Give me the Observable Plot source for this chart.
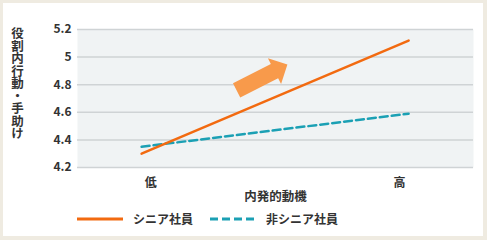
<!DOCTYPE html>
<html><head><meta charset="utf-8">
<script src="https://cdn.jsdelivr.net/npm/d3@7"></script>
<script src="https://cdn.jsdelivr.net/npm/@observablehq/plot@0.6"></script>
<style>
  html, body { margin: 0; padding: 0; background: #fff; }
  #wrap { position: relative; width: 487px; height: 240px; background: #efebe1; overflow: hidden;
          font-family: "Noto Sans CJK JP", "Noto Sans", sans-serif; color: #333; font-weight: bold; }
  #inner { position: absolute; left: 3px; top: 3px; width: 480px; height: 233px; background: #fff; }
  #chart { position: absolute; left: 0; top: 0; }
  #ytitle { position: absolute; left: 10px; top: 27px; writing-mode: vertical-rl; text-orientation: upright;
            font-size: 12.5px; letter-spacing: 0px; line-height: 14px; }
  .lg { position: absolute; top: 210px; height: 18px; line-height: 18px; font-size: 12px; }
</style></head>
<body>
<div id="wrap">
  <div id="inner"></div>
  <div id="chart"></div>
  <div id="ytitle">役割内行動・手助け</div>
  <div id="legend"></div>
</div>
<script>
const categories = ["低", "高"];
const catX = [0, 1];
const labelX = [0.034, 0.966];
const seriesNames = ["シニア社員", "非シニア社員"];
const senior = [4.30, 5.12];
const nonSenior = [4.35, 4.59];
const yTicks = [4.2, 4.4, 4.6, 4.8, 5, 5.2];
const xTitle = "内発的動機";
const arrowPos = [{x: 0.451, y: 4.852}];
const colors = ["#f26a10", "#1ba0b4"];

const rows = categories.flatMap((c, i) => [
  {x: catX[i], y: senior[i], s: seriesNames[0]},
  {x: catX[i], y: nonSenior[i], s: seriesNames[1]}
]);

const blockArrow = {
  draw(context, l) {
    const hw = 8, hh = 14.5, hl = 14.5;
    context.moveTo(-hw, 0);
    context.lineTo(-hw, -l + hl);
    context.lineTo(-hh, -l + hl);
    context.lineTo(0, -l);
    context.lineTo(hh, -l + hl);
    context.lineTo(hw, -l + hl);
    context.lineTo(hw, 0);
    context.closePath();
  }
};

const chart = Plot.plot({
  width: 487, height: 205,
  marginLeft: 77, marginRight: 14, marginTop: 29, marginBottom: 38,
  style: {background: "transparent", fontFamily: "'Noto Sans CJK JP', sans-serif", fontSize: "12px", fontWeight: "bold", color: "#333"},
  x: {domain: [-0.24, 1.243], axis: null},
  y: {domain: [4.2, 5.2], axis: null},
  marks: [
    Plot.frame({fill: "#f0f3f4", stroke: null}),
    Plot.gridY(yTicks, {stroke: "#cfd3d5", strokeOpacity: 1, strokeWidth: 1.5}),
    Plot.axisY(yTicks, {tickSize: 0, tickPadding: 6, tickFormat: d => String(d), label: null, fontSize: 12}),
    Plot.text(categories, {x: (d, i) => labelX[i], frameAnchor: "bottom", dy: 16, lineAnchor: "middle", text: d => d, fontSize: 12}),
    Plot.text([xTitle], {frameAnchor: "bottom", dy: 29, lineAnchor: "middle", text: d => d, fontSize: 12.5}),
    Plot.line(rows.filter(d => d.s === seriesNames[1]), {x: "x", y: "y", stroke: colors[1], strokeWidth: 2.5, strokeDasharray: "8,4"}),
    Plot.line(rows.filter(d => d.s === seriesNames[0]), {x: "x", y: "y", stroke: colors[0], strokeWidth: 2.5}),
    Plot.vector(arrowPos, {x: "x", y: "y", length: 57, rotate: 63, anchor: "middle", shape: blockArrow, fill: "#f89a4b", stroke: "none"})
  ]
});
document.getElementById("chart").append(chart);

const legend = document.getElementById("legend");
const items = [
  {name: seriesNames[0], color: colors[0], dash: null, left: 77, textLeft: 133},
  {name: seriesNames[1], color: colors[1], dash: "8,4", left: 210, textLeft: 266}
];
for (const it of items) {
  const sw = document.createElementNS("http://www.w3.org/2000/svg", "svg");
  sw.setAttribute("width", 46); sw.setAttribute("height", 18);
  sw.style.position = "absolute"; sw.style.left = it.left + "px"; sw.style.top = "210px";
  const ln = document.createElementNS("http://www.w3.org/2000/svg", "line");
  ln.setAttribute("x1", 0); ln.setAttribute("x2", 46); ln.setAttribute("y1", 9); ln.setAttribute("y2", 9);
  ln.setAttribute("stroke", it.color); ln.setAttribute("stroke-width", 3);
  if (it.dash) ln.setAttribute("stroke-dasharray", it.dash);
  sw.append(ln);
  legend.append(sw);
  const t = document.createElement("div");
  t.className = "lg"; t.style.left = it.textLeft + "px"; t.textContent = it.name;
  legend.append(t);
}
</script>
</body></html>
